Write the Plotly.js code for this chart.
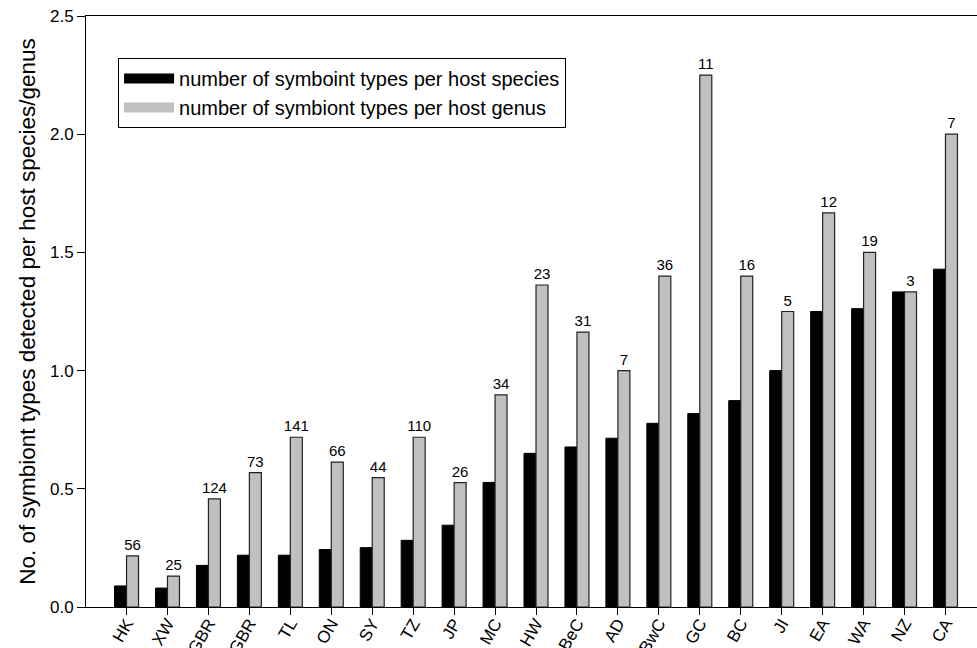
<!DOCTYPE html>
<html>
<head>
<meta charset="utf-8">
<script src="https://cdn.plot.ly/plotly-3.0.1.min.js"></script>
<style>html,body{margin:0;padding:0;background:#fff;}#chart{width:977px;height:648px;}</style>
</head>
<body>
<div id="chart"></div>
<script>
const sites = ["HK","XW","GBR","GBR","TL","ON","SY","TZ","JP","MC","HW","BeC","AD","BwC","GC","BC","JI","EA","WA","NZ","CA"];
const perSpecies = [0.089,0.080,0.176,0.219,0.219,0.243,0.251,0.282,0.346,0.527,0.650,0.677,0.714,0.777,0.818,0.873,1.0,1.25,1.262,1.333,1.429];
const perGenus = [0.216,0.131,0.457,0.568,0.718,0.613,0.547,0.718,0.526,0.897,1.362,1.163,1.0,1.4,2.25,1.4,1.25,1.667,1.5,1.333,2.0];
const sampleN = ["56","25","124","73","141","66","44","110","26","34","23","31","7","36","11","16","5","12","19","3","7"];
const seriesNames = ["number of symboint types per host species","number of symbiont types per host genus"];

const idx = sites.map((_, i) => i);
const FONT = "Liberation Sans, Arial, sans-serif";

const traces = [
  {
    type: "bar", x: idx, y: perSpecies, name: seriesNames[0], showlegend: false,
    marker: {color: "#000000", line: {color: "#000000", width: 1}},
    hoverinfo: "y"
  },
  {
    type: "bar", x: idx, y: perGenus, name: seriesNames[1], showlegend: false,
    marker: {color: "#c0c0c0", line: {color: "#222222", width: 1.2}},
    text: sampleN, textposition: "outside", constraintext: "none", cliponaxis: false,
    textfont: {family: FONT, size: 15, color: "#000"},
    hoverinfo: "y"
  },
  // legend-only entries (wide swatches like the reference)
  {type: "scatter", mode: "lines", x: [null], y: [null], name: seriesNames[0],
   line: {color: "#000000", width: 14}, hoverinfo: "skip"},
  {type: "scatter", mode: "lines", x: [null], y: [null], name: seriesNames[1],
   line: {color: "#c0c0c0", width: 13}, hoverinfo: "skip"}
];

const layout = {
  width: 977, height: 648,
  margin: {l: 86, r: 0, t: 16, b: 41},
  paper_bgcolor: "#fff", plot_bgcolor: "#fff",
  font: {family: FONT, color: "#000"},
  barmode: "group", bargap: 0.414, bargroupgap: 0,
  showlegend: true,
  legend: {
    x: 0.036, y: 0.929, xanchor: "left", yanchor: "top",
    bgcolor: "#fff", bordercolor: "#000", borderwidth: 1,
    font: {family: FONT, size: 20, color: "#000"},
    tracegroupgap: 0, itemwidth: 50
  },
  xaxis: {
    range: [-0.99, 20.77], tickmode: "array", tickvals: idx, ticktext: sites,
    tickangle: -60, ticks: "outside", ticklen: 7, tickcolor: "#000",
    ticklabelstandoff: -8,
    showline: true, linecolor: "#000", linewidth: 1, mirror: true,
    showgrid: false, zeroline: false, automargin: false,
    tickfont: {family: FONT, size: 17, color: "#000"}
  },
  yaxis: {
    range: [0, 2.5], tickvals: [0, 0.5, 1.0, 1.5, 2.0, 2.5],
    tickformat: ".1f", ticks: "outside", ticklen: 8, tickcolor: "#000",
    showline: true, linecolor: "#000", linewidth: 1, mirror: true,
    showgrid: false, zeroline: false, automargin: false,
    tickfont: {family: FONT, size: 17, color: "#000"},
    title: {text: "No. of symbiont types detected per host species/genus", font: {family: FONT, size: 22.5, color: "#000"}, standoff: 8}
  }
};

Plotly.newPlot("chart", traces, layout, {displayModeBar: false, staticPlot: true});
</script>
</body>
</html>
